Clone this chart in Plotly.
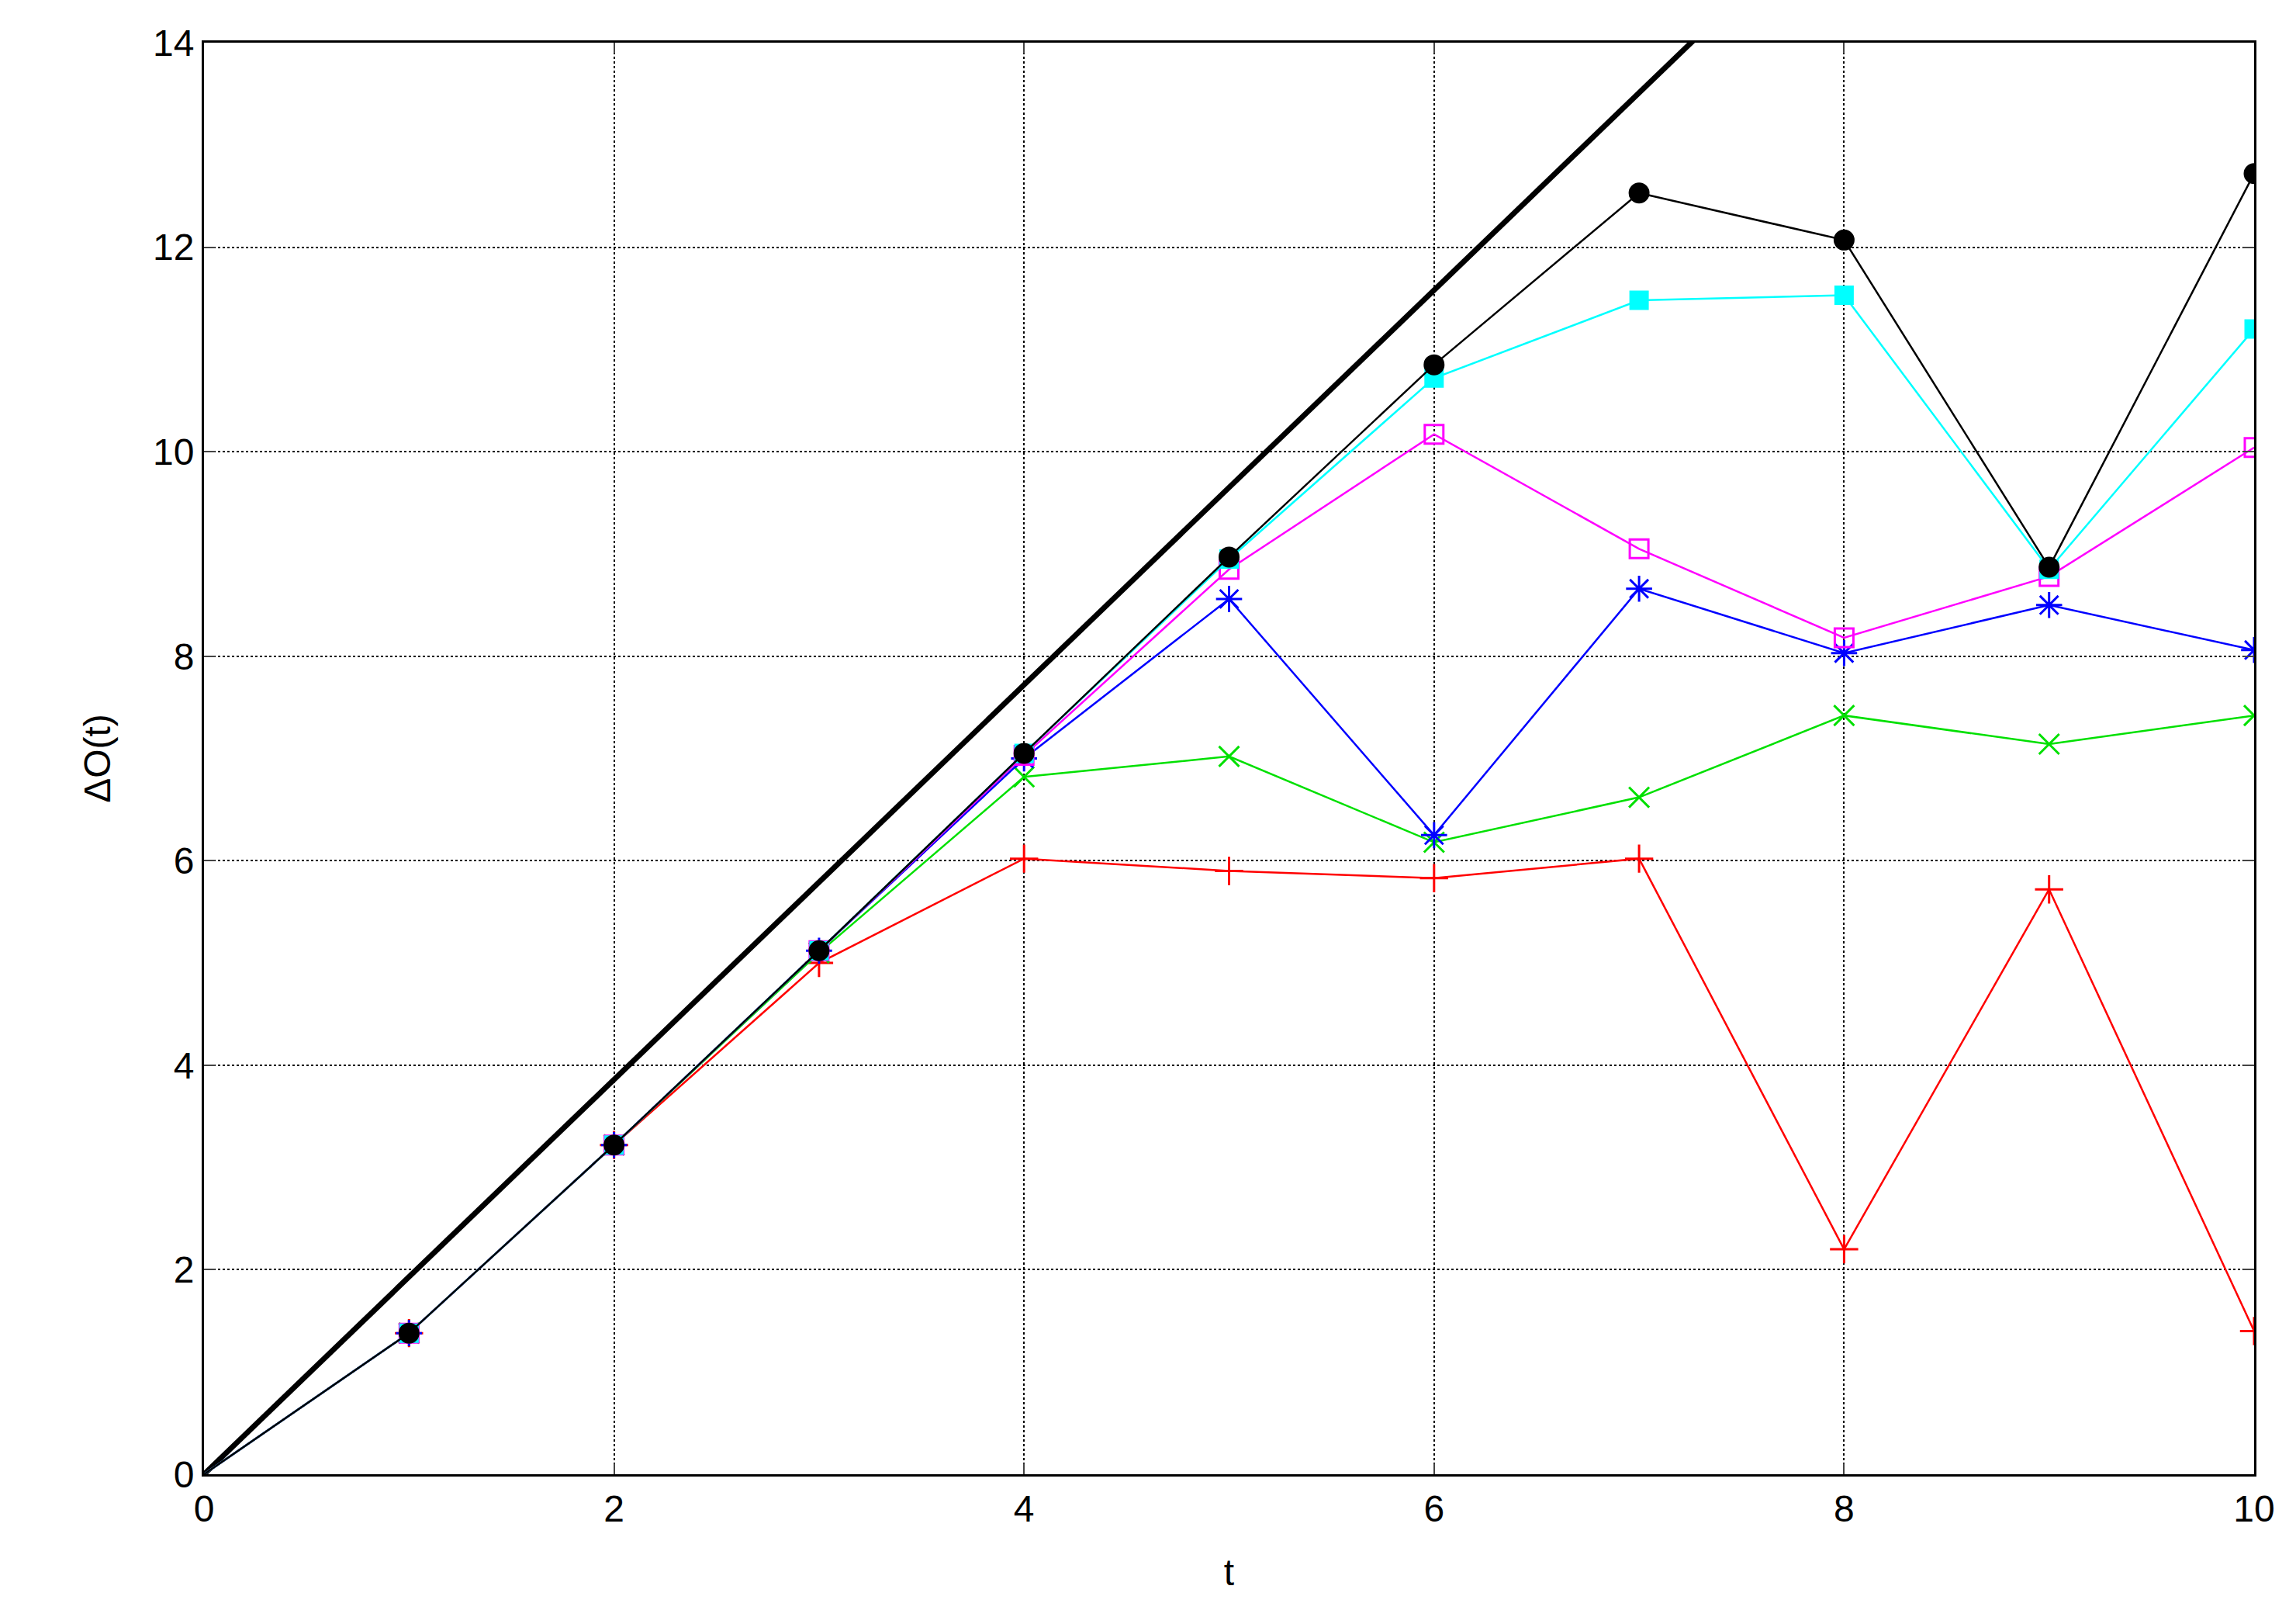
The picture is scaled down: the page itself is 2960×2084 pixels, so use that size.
import plotly.graph_objects as go

t = list(range(11))
red = [0, 1.38, 3.22, 5.0, 6.02, 5.9, 5.83, 6.02, 2.2, 5.72, 1.4]
green = [0, 1.38, 3.22, 5.1, 6.82, 7.02, 6.18, 6.62, 7.42, 7.14, 7.42]
blue = [0, 1.38, 3.22, 5.12, 7.0, 8.56, 6.25, 8.66, 8.03, 8.5, 8.06]
magenta = [0, 1.38, 3.22, 5.12, 7.03, 8.85, 10.17, 9.05, 8.18, 8.78, 10.04]
cyan = [0, 1.38, 3.22, 5.12, 7.05, 8.95, 10.72, 11.48, 11.53, 8.85, 11.2]
black = [0, 1.38, 3.22, 5.12, 7.05, 8.97, 10.85, 12.53, 12.07, 8.87, 12.72]
bound_t = [0, 10]
bound = [0, 19.3]

fig = go.Figure()
fig.add_trace(go.Scatter(x=bound_t, y=bound, mode="lines", line=dict(color="black", width=7)))
series = [
    (red, "#ff0000", "cross-thin", 26),
    (green, "#00e000", "x-thin", 26),
    (blue, "#0000ff", "asterisk-open", 28),
    (magenta, "#ff00ff", "square-open", 24),
    (cyan, "#00ffff", "square", 22),
    (black, "#000000", "circle", 24),
]
for y, c, sym, s in series:
    fig.add_trace(go.Scatter(
        x=t, y=y, mode="lines+markers",
        line=dict(color=c, width=2.5),
        marker=dict(symbol=sym, size=[0] + [s] * 10, color=c, opacity=1,
                    line=dict(color=c, width=3)),
    ))

axis = dict(showline=True, linecolor="black", linewidth=3, mirror="ticks",
            showgrid=True, gridcolor="black", griddash="dot", gridwidth=1.5,
            zeroline=False, ticks="inside", ticklen=14, tickwidth=2,
            tickfont=dict(size=48, color="black"))
fig.update_layout(
    width=2960, height=2084, showlegend=False,
    paper_bgcolor="white", plot_bgcolor="white",
    font=dict(family="Liberation Sans, Arial", color="black"),
    margin=dict(l=255, r=62, t=47, b=192),
    xaxis=dict(axis, range=[0, 10], dtick=2,
               title=dict(text="t", font=dict(size=48), standoff=40)),
    yaxis=dict(axis, range=[0, 14], dtick=2,
               title=dict(text="ΔO(t)", font=dict(size=48), standoff=40)),
)
fig.write_html("out.html")
